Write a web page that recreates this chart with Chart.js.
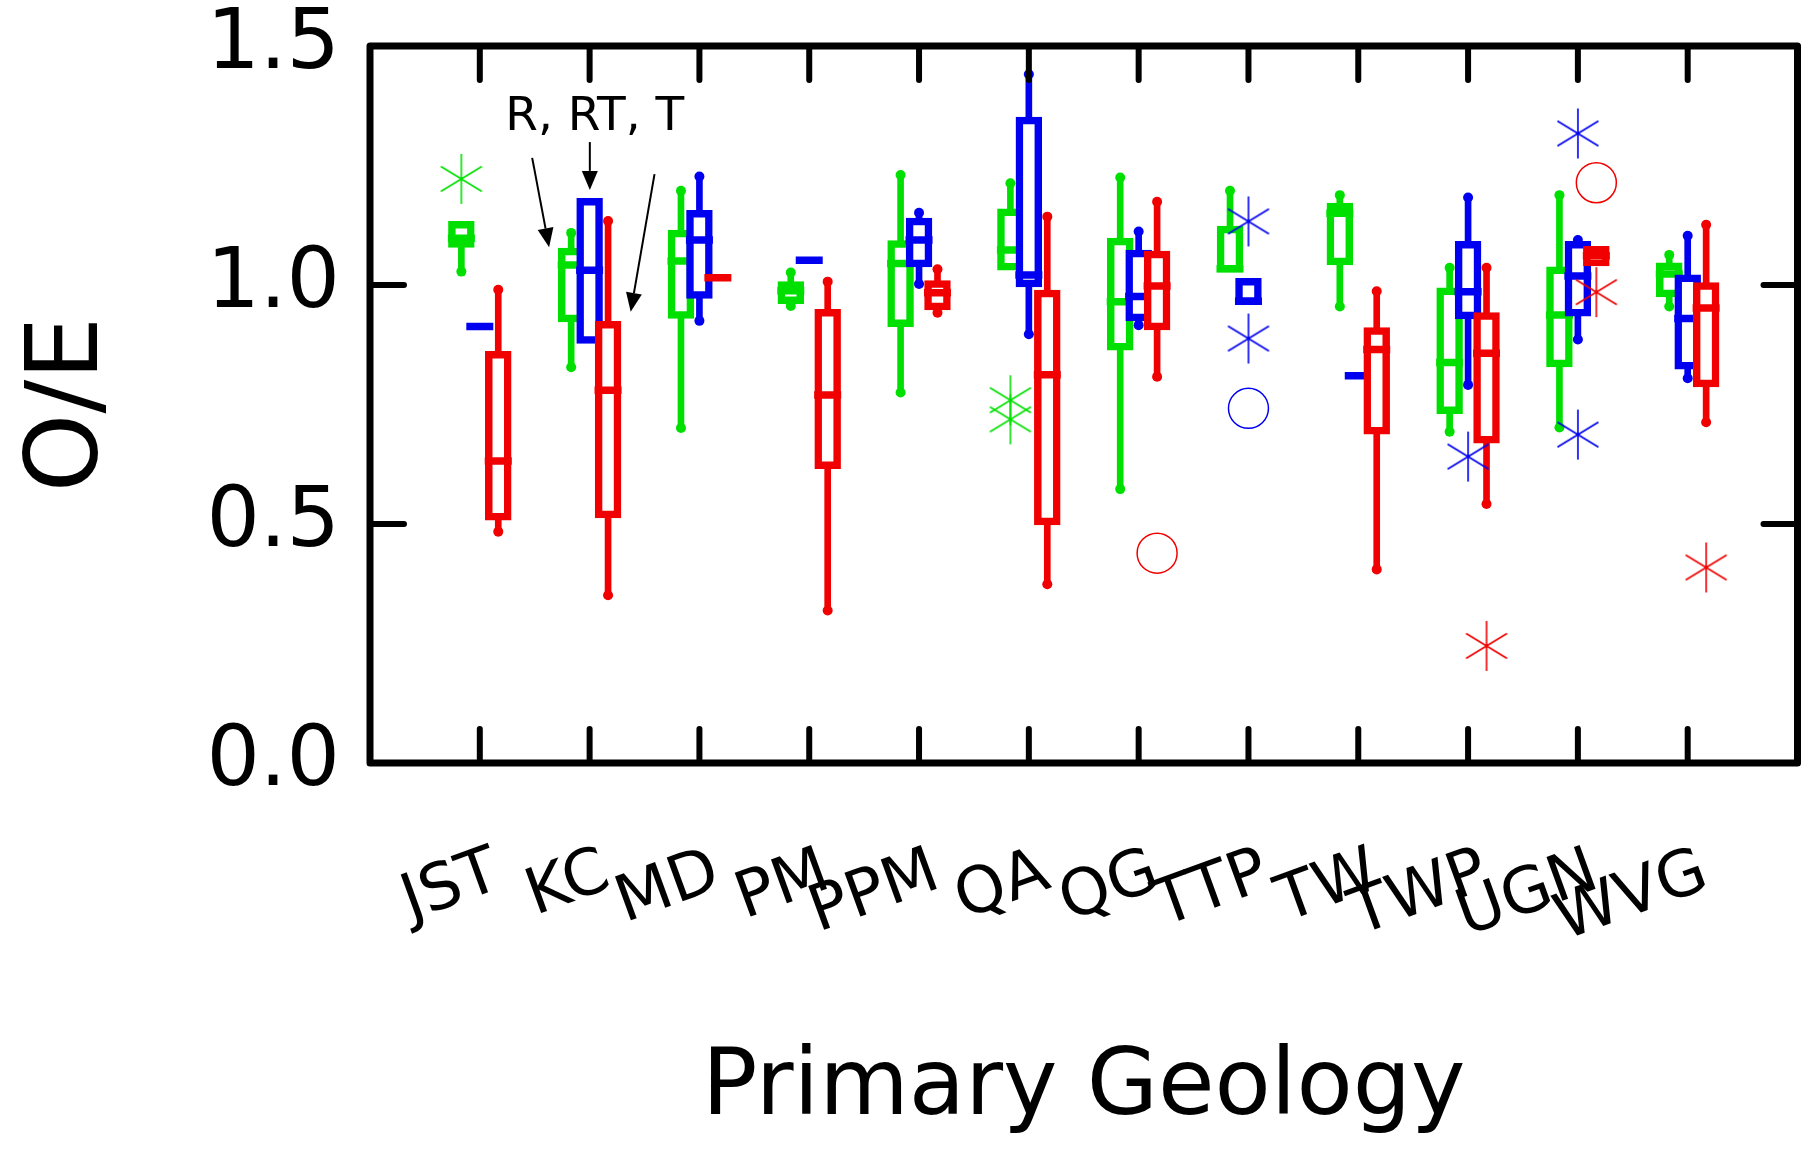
<!DOCTYPE html>
<html>
<head>
<meta charset="utf-8">
<script src="https://cdn.jsdelivr.net/npm/chart.js@4.4.1/dist/chart.umd.min.js"></script>
<style>
  html, body { margin: 0; padding: 0; background: #fff; }
</style>
</head>
<body>
<canvas id="chart" width="1819" height="1157"></canvas>
<script>
// categories and y ticks
const geology = ['JST', 'KC', 'MD', 'PM', 'PPM', 'QA', 'QG', 'TTP', 'TW', 'TWP', 'UGN', 'WVG'];
const yTicks = [0, 0.5, 1.0, 1.5];

// R (green): whisker low, Q1, median, Q3, whisker high
const rLow  = [1.028, 0.828, 0.701, 0.956, 0.775, null,  0.573, null,  0.955, 0.693, 0.702, 0.955];
const rQ1   = [1.086, 0.930, 0.937, 0.968, 0.920, 1.038, 0.871, 1.034, 1.049, 0.738, 0.836, 0.982];
const rMed  = [1.098, 1.042, 1.050, 0.988, 1.045, 1.073, 0.965, 1.034, 1.150, 0.838, 0.937, 1.023];
const rQ3   = [1.126, 1.070, 1.108, 1.000, 1.086, 1.152, 1.091, 1.116, 1.164, 0.987, 1.031, 1.039];
const rHigh = [null,  1.109, 1.197, 1.026, 1.230, 1.213, 1.225, 1.197, 1.188, 1.036, 1.188, 1.063];

// RT (blue)
const rtLow  = [null,  null,  0.925, null,  1.002, 0.897, 0.916, null,  null,  0.791, 0.886, 0.805];
const rtQ1   = [null,  0.885, 0.979, null,  1.045, 1.003, 0.932, 0.966, null,  0.936, 0.942, 0.831];
const rtMed  = [0.913, 1.031, 1.094, 1.052, 1.094, 1.021, 0.976, 0.966, 0.810, 0.986, 1.019, 0.930];
const rtQ3   = [null,  1.174, 1.149, null,  1.133, 1.344, 1.066, 1.007, null,  1.084, 1.084, 1.014];
const rtHigh = [null,  null,  1.227, null,  1.151, 1.441, 1.112, null,  null,  1.183, 1.094, 1.103];

// T (red)
const tLow  = [0.484, 0.351, null,  0.319, 0.942, 0.374, 0.808, null, 0.405, 0.542, null,  0.713];
const tQ1   = [0.515, 0.520, null,  0.623, 0.955, 0.505, 0.913, null, 0.695, 0.676, 1.047, 0.794];
const tMed  = [0.632, 0.780, 1.015, 0.770, 0.984, 0.812, 0.998, null, 0.865, 0.857, 1.061, 0.952];
const tQ3   = [0.854, 0.917, null,  0.942, 1.002, 0.982, 1.064, null, 0.904, 0.935, 1.074, 0.998];
const tHigh = [0.990, 1.134, null,  1.007, 1.033, 1.143, 1.174, null, 0.987, 1.036, null,  1.126];

// outliers
const rStarCat  = ['JST', 'QA', 'QA'];
const rStarVal  = [1.222, 0.759, 0.719];
const rtStarCat = ['TTP', 'TTP', 'TWP', 'UGN', 'UGN'];
const rtStarVal = [1.133, 0.888, 0.641, 1.317, 0.687];
const rtRingCat = ['TTP'];
const rtRingVal = [0.742];
const tStarCat  = ['TWP', 'UGN', 'WVG'];
const tStarVal  = [0.245, 0.985, 0.409];
const tRingCat  = ['QG', 'UGN'];
const tRingVal  = [0.439, 1.214];

// "R, RT, T" note with arrows (data units)
const noteText = 'R, RT, T';
const notePos = [2.047, 1.349];
const arrowFrom = [[1.477, 1.266], [2.002, 1.299], [2.591, 1.232]];
const arrowTo   = [[1.631, 1.079], [2.002, 1.199], [2.374, 0.944]];

const FONT = '"DejaVu Sans", "Liberation Sans", sans-serif';
const GREEN = '#00e000', BLUE = '#0000f0', RED = '#f00000';
const SHIFT = 0.168;

function asteriskImage(color) {
    const c = document.createElement('canvas');
    c.width = 54; c.height = 54;
    const g = c.getContext('2d');
    g.strokeStyle = color;
    g.lineWidth = 1.6;
    g.beginPath();
    g.moveTo(27, 2); g.lineTo(27, 52);
    g.moveTo(6.5, 14.5); g.lineTo(47.5, 39.5);
    g.moveTo(6.5, 39.5); g.lineTo(47.5, 14.5);
    g.stroke();
    return c;
}

// box plot pieces for one group, built from the arrays above
function boxDatasets(color, low, q1, med, q3, high, dx) {
    const whiskers = [], boxes = [], caps = [], medians = [];
    geology.forEach((g, i) => {
        const x = i + 1 + dx;
        if (q1[i] !== null) {
            const a = low[i] !== null ? low[i] : q1[i];
            const b = high[i] !== null ? high[i] : q3[i];
            if (b > a) whiskers.push({ x: x, y: [a, b] });
            boxes.push({ x: x, y: [q1[i], q3[i]] });
        }
        if (low[i] !== null) caps.push({ x: x, y: low[i] });
        if (high[i] !== null) caps.push({ x: x, y: high[i] });
        if (med[i] !== null) medians.push({ x: x, y: med[i] });
    });
    return [
        { type: 'bar', data: whiskers, backgroundColor: color, borderWidth: 0, barThickness: 6, grouped: false },
        { type: 'bar', data: boxes, backgroundColor: '#fff', borderColor: color, borderWidth: 7.5,
          borderSkipped: false, inflateAmount: 3.75, barThickness: 19, grouped: false },
        { type: 'scatter', data: caps, pointStyle: 'circle', pointRadius: 5,
          backgroundColor: color, borderWidth: 0 },
        { type: 'scatter', data: medians, pointStyle: 'line', pointRadius: 13.5,
          borderColor: color, pointBorderWidth: 7.5 }
    ];
}

function outlierDataset(cats, vals, color, dx, ring) {
    const pts = cats.map((c, i) => ({ x: geology.indexOf(c) + 1 + dx, y: vals[i] }));
    if (ring) {
        return { type: 'scatter', data: pts, pointStyle: 'circle', pointRadius: 20,
                 borderColor: color, pointBorderWidth: 1.5, backgroundColor: 'rgba(0,0,0,0)' };
    }
    return { type: 'scatter', data: pts, pointStyle: asteriskImage(color), pointRadius: 10 };
}

const datasets = [].concat(
    boxDatasets(GREEN, rLow, rQ1, rMed, rQ3, rHigh, -SHIFT),
    boxDatasets(BLUE, rtLow, rtQ1, rtMed, rtQ3, rtHigh, 0),
    boxDatasets(RED, tLow, tQ1, tMed, tQ3, tHigh, SHIFT),
    [
        outlierDataset(rStarCat, rStarVal, GREEN, -SHIFT, false),
        outlierDataset(rtStarCat, rtStarVal, BLUE, 0, false),
        outlierDataset(rtRingCat, rtRingVal, BLUE, 0, true),
        outlierDataset(tStarCat, tStarVal, RED, SHIFT, false),
        outlierDataset(tRingCat, tRingVal, RED, SHIFT, true)
    ]
);
// first dataset drawn first
datasets.forEach((d, i) => { d.order = datasets.length - i; });

// frame, inward ticks and the note
const frameAndNotes = {
    id: 'frameAndNotes',
    afterDatasetsDraw(chart) {
        const { ctx, chartArea: a, scales: { x, y } } = chart;
        ctx.save();
        ctx.strokeStyle = '#000';
        ctx.fillStyle = '#000';
        ctx.lineCap = 'round';
        ctx.lineWidth = 6;
        ctx.beginPath();
        geology.forEach((g, i) => {
            const px = x.getPixelForValue(i + 1);
            ctx.moveTo(px, a.top); ctx.lineTo(px, a.top + 34);
            ctx.moveTo(px, a.bottom); ctx.lineTo(px, a.bottom - 34);
        });
        yTicks.forEach(v => {
            const py = y.getPixelForValue(v);
            ctx.moveTo(a.left, py); ctx.lineTo(a.left + 34, py);
            ctx.moveTo(a.right, py); ctx.lineTo(a.right - 34, py);
        });
        ctx.stroke();
        ctx.lineWidth = 7;
        ctx.lineJoin = 'round';
        ctx.strokeRect(a.left, a.top, a.right - a.left, a.bottom - a.top);

        ctx.font = '47px ' + FONT;
        ctx.textAlign = 'center';
        ctx.textBaseline = 'middle';
        ctx.fillText(noteText, x.getPixelForValue(notePos[0]), y.getPixelForValue(notePos[1]));

        ctx.lineWidth = 2;
        ctx.lineCap = 'butt';
        arrowFrom.forEach((f, i) => {
            const x1 = x.getPixelForValue(f[0]), y1 = y.getPixelForValue(f[1]);
            const x2 = x.getPixelForValue(arrowTo[i][0]), y2 = y.getPixelForValue(arrowTo[i][1]);
            const ang = Math.atan2(y2 - y1, x2 - x1);
            const hl = 19, hw = 8;
            const bx = x2 - hl * Math.cos(ang), by = y2 - hl * Math.sin(ang);
            ctx.beginPath();
            ctx.moveTo(x1, y1); ctx.lineTo(bx, by);
            ctx.stroke();
            ctx.beginPath();
            ctx.moveTo(x2, y2);
            ctx.lineTo(bx + hw * Math.sin(ang), by - hw * Math.cos(ang));
            ctx.lineTo(bx - hw * Math.sin(ang), by + hw * Math.cos(ang));
            ctx.closePath();
            ctx.fill();
        });
        ctx.restore();
    }
};

new Chart(document.getElementById('chart'), {
    type: 'bar',
    data: { datasets: datasets },
    options: {
        responsive: false,
        animation: false,
        events: [],
        layout: { padding: { top: 46, right: 14, left: 0, bottom: 0 } },
        plugins: { legend: { display: false }, tooltip: { enabled: false } },
        scales: {
            x: {
                type: 'linear',
                min: 0,
                max: 13,
                offset: false,
                grid: { display: false, drawTicks: false },
                border: { display: false },
                afterBuildTicks: s => { s.ticks = geology.map((g, i) => ({ value: i + 1 })); },
                afterFit: s => { s.height = 394; s.paddingLeft = 0; s.paddingRight = 0; },
                ticks: {
                    autoSkip: false,
                    minRotation: 20,
                    maxRotation: 20,
                    padding: 72,
                    labelOffset: 18,
                    color: '#000',
                    font: { family: FONT, size: 64 },
                    callback: v => geology[v - 1]
                },
                title: {
                    display: true,
                    text: 'Primary Geology',
                    color: '#000',
                    font: { family: FONT, size: 92 },
                    padding: { top: 0, bottom: 12 }
                }
            },
            y: {
                min: 0,
                max: 1.5,
                grid: { display: false, drawTicks: false },
                border: { display: false },
                afterBuildTicks: s => { s.ticks = yTicks.map(v => ({ value: v })); },
                afterFit: s => { s.width = 370; s.paddingTop = 0; s.paddingBottom = 0; },
                ticks: {
                    padding: 30,
                    color: '#000',
                    font: { family: FONT, size: 84 },
                    callback: v => v.toFixed(1)
                },
                title: {
                    display: true,
                    text: 'O/E',
                    color: '#000',
                    font: { family: FONT, size: 100 },
                    padding: { top: 11, bottom: 0 }
                }
            }
        }
    },
    plugins: [frameAndNotes]
});
</script>
</body>
</html>
